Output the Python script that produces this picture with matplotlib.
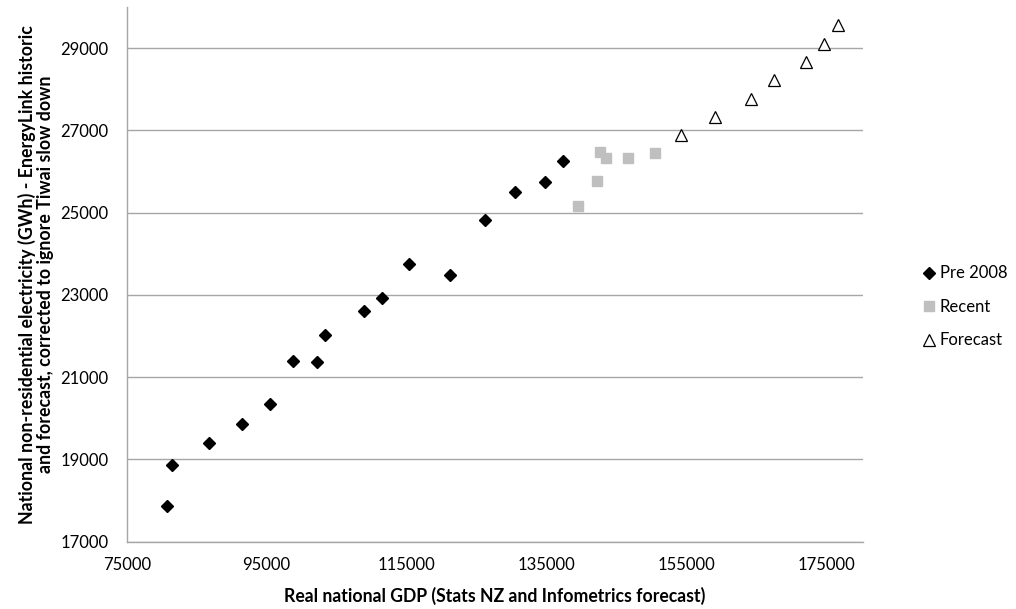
import matplotlib
matplotlib.use("Agg")
import matplotlib.pyplot as plt

pre_x = [80700, 81500, 86750, 91500, 95500, 98800, 102150, 103350, 108900, 111450,
         115350, 121200, 126150, 130550, 134750, 137350]
pre_y = [17880, 18870, 19410, 19860, 20340, 21390, 21370, 22030, 22610, 22930,
         23760, 23480, 24820, 25500, 25745, 26250]
rec_x = [139500, 142250, 142600, 143550, 146650, 150500]
rec_y = [25150, 25770, 26480, 26320, 26335, 26445]
fc_x = [154250, 159050, 164150, 167450, 172100, 174650, 176650]
fc_y = [26880, 27320, 27760, 28215, 28660, 29105, 29560]

xticks = [75000, 95000, 115000, 135000, 155000, 175000]
yticks = [17000, 19000, 21000, 23000, 25000, 27000, 29000]

plt.rcParams['font.family'] = ['Lato', 'DejaVu Sans']

fig = plt.figure(figsize=(10.16, 6.09), dpi=100)
ax = fig.add_axes([0.1247, 0.1105, 0.8494 - 0.1247, 0.9885 - 0.1105])

ax.plot(pre_x, pre_y, linestyle='none', marker='D', markersize=6.2,
        color='black', label='Pre 2008', zorder=3)
ax.plot(rec_x, rec_y, linestyle='none', marker='s', markersize=7.2,
        color='#BFBFBF', label='Recent', zorder=3)
ax.plot(fc_x, fc_y, linestyle='none', marker='^', markersize=8,
        markerfacecolor='white', markeredgecolor='black', markeredgewidth=0.9,
        label='Forecast', zorder=3)

ax.set_xlim(75000, 180200)
ax.set_ylim(17000, 30000)
ax.set_xticks(xticks)
ax.set_yticks(yticks)
ax.set_xticklabels([str(v) for v in xticks], fontsize=12)
ax.set_yticklabels([str(v) for v in yticks], fontsize=12)
ax.tick_params(axis='x', length=0, pad=11)
ax.tick_params(axis='y', length=0, pad=13)
ax.yaxis.grid(True, color='#A6A6A6', linewidth=1)
ax.set_axisbelow(True)
for s in ['top', 'right']:
    ax.spines[s].set_visible(False)
for s in ['left', 'bottom']:
    ax.spines[s].set_color('#A6A6A6')
    ax.spines[s].set_linewidth(1)

ax.set_xlabel('Real national GDP (Stats NZ and Infometrics forecast)',
              fontsize=12.7, fontweight='bold', labelpad=10)
ax.set_ylabel('National non-residential electricity (GWh) - EnergyLink historic\n'
              'and forecast, corrected to ignore Tiwai slow down',
              fontsize=12.8, fontweight='bold', labelpad=5, linespacing=1.05)

leg = ax.legend(loc='center left', bbox_to_anchor=(1.078, 0.439), frameon=False,
                fontsize=12, handletextpad=0.15, labelspacing=1.05,
                handlelength=1.0, borderaxespad=0, borderpad=0)

fig.savefig('out.png', dpi=100)
